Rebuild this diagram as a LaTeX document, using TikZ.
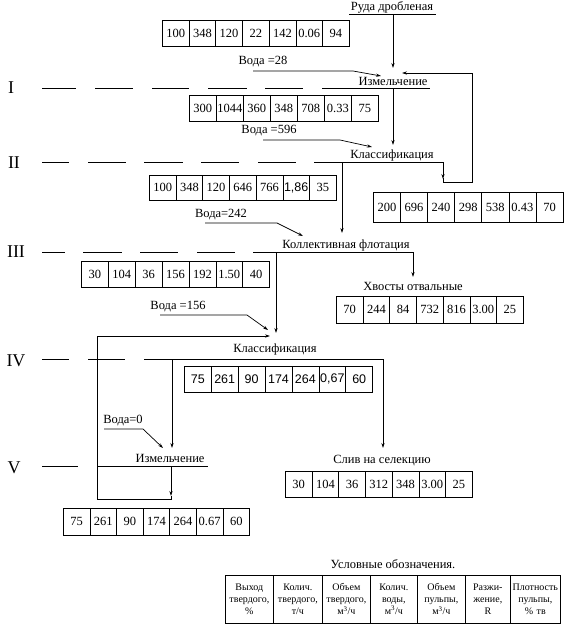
\documentclass[tikz,border=0pt]{standalone}
\usepackage{fontspec}
\setmainfont{Liberation Serif}
\setsansfont{Liberation Sans}
\usetikzlibrary{arrows.meta}
\newcommand{\drow}[6]{\foreach \v [count=\i] in {#6}{\node[cell, minimum width=#4pt, minimum height=#5pt] (#1-\i) at ({#2+(\i-1)*#4},#3) {\v};}}
\begin{document}
\begin{tikzpicture}[x=1pt,y=-1pt, line width=0.7pt,
  cell/.style={draw, inner sep=0pt, anchor=north west, font=\fontsize{12.5}{13}\selectfont},
  scell/.style={cell, font=\sffamily\fontsize{12.5}{13}\selectfont},
  lbl/.style={inner sep=0pt, font=\fontsize{12.5}{13}\selectfont},
  roman/.style={inner sep=0pt, font=\fontsize{18}{18}\selectfont},
  arr/.style={-{Stealth[length=5pt,width=3.2pt]}},
  leg/.style={draw, inner sep=0pt, anchor=north west, align=center, font=\fontsize{10}{12}\selectfont}]
\useasboundingbox (0,0) rectangle (568,633);

% ---- data boxes
\drow{t}{162}{20}{26.7}{26}{100,348,120,22,142,0.06,94}
\drow{b1}{189}{95}{27}{26}{300,1044,360,348,708,0.33,75}
\drow{b2}{149}{175}{26.7}{25}{100,348,120,646,766,{\sffamily 1,86},35}
\drow{b3}{373}{192}{27.1}{30}{200,696,240,298,538,0.43,70}
\drow{b4}{81}{261}{26.9}{26}{30,104,36,156,192,1.50,40}
\drow{b5}{336}{296}{26.7}{27}{70,244,84,732,816,3.00,25}
\foreach \v [count=\i] in {75,261,90,174,264,{0,67},60}{\node[scell, minimum width=26.9pt, minimum height=26pt] (b6-\i) at ({184+(\i-1)*26.9},366) {\v};}
\drow{b7}{285}{471}{26.7}{26}{30,104,36,312,348,3.00,25}
\drow{b8}{63}{508}{26.6}{27}{75,261,90,174,264,0.67,60}

% ---- labels
\node[lbl] (ruda) at (392,7) {Руда дробленая};
\draw (349,14) -- (436,14);
\node[lbl] (voda1) at (263,62) {Вода =28};
\node[lbl] (izm1) at (393,81) {Измельчение};
\node[lbl] (voda2) at (269,131) {Вода =596};
\node[lbl] (klass2) at (392,155) {Классификация};
\node[lbl] (voda3) at (221,215) {Вода=242};
\node[lbl] (flot) at (346,245) {Коллективная флотация};
\node[lbl] (hvost) at (413,286) {Хвосты отвальные};
\node[lbl] (voda4) at (178,307) {Вода =156};
\node[lbl] (klass4) at (275,349) {Классификация};
\node[lbl] (voda5) at (123,421) {Вода=0};
\node[lbl] (izm5) at (170,458) {Измельчение};
\node[lbl] (sliv) at (382,461) {Слив на селекцию};

% ---- roman levels
\node[roman] (r1) at (11,88) {I};
\node[roman] (r2) at (14,163) {II};
\node[roman] (r3) at (16,252) {III};
\node[roman] (r4) at (16,361) {IV};
\node[roman] (r5) at (14,468) {V};

% ---- level lines
\foreach \a/\b in {42/76,95/133,152/189,208/247,265/303,322/430} \draw (\a,88) -- (\b,88);
\foreach \a/\b in {42/69,88/126,144/183,201/239,258/296,314/443} \draw (\a,162) -- (\b,162);
\foreach \a/\b in {42/65,83/122,140/178,197/235,253/413} \draw (\a,252) -- (\b,252);
\foreach \a/\b in {42/69,88/125,144/383} \draw (\a,359) -- (\b,359);
\foreach \a/\b in {42/78,97/208} \draw (\a,466) -- (\b,466);

% ---- connectors
\draw[arr] (393,14) -- (393,68);
\draw[arr] (253,71) -- (353,71) -- (381,76);
\draw[arr] (443,162) -- (443,179);
\draw[arr] (443,178) -- (443,182) -- (472,182) -- (472,73) -- (402,73);
\draw[arr] (393,88) -- (393,145);
\draw[arr] (263,140) -- (340,140) -- (372,147);
\draw[arr] (342,162) -- (342,233);
\draw[arr] (205,223) -- (277,223) -- (303,236);
\draw[arr] (413,252) -- (413,277);
\draw[arr] (276,252) -- (276,333);
\draw[arr] (160,315) -- (247,315) -- (268,330);
\draw[arr] (171,466) -- (171,496);
\draw[arr] (171,496) -- (171,499) -- (97,499) -- (97,336) -- (270,336);
\draw[arr] (172,359) -- (172,448);
\draw[arr] (383,359) -- (383,448);
\draw[arr] (104,429) -- (143,429) -- (163,448);

% ---- legend
\node[lbl] (legt) at (393,564) {Условные обозначения.};
\foreach \xa/\xb/\t [count=\i] in {225/273/{Выход\\твердого,\\\%},273/322/{Колич.\\твердого,\\т/ч},322/370/{Объем\\твердого,\\м\textsuperscript{3}/ч},370/417/{Колич.\\воды,\\м\textsuperscript{3}/ч},417/465/{Объем\\пульпы,\\м\textsuperscript{3}/ч},465/510/{Разжи-\\жение,\\R},510/560/{Плотность\\пульпы,\\\% тв}}{
  \pgfmathsetmacro\w{\xb-\xa}
  \node[leg, minimum width=\w pt, minimum height=48pt, text width=\w pt] (leg-\i) at (\xa,575) {\t};
}
\end{tikzpicture}
\end{document}
